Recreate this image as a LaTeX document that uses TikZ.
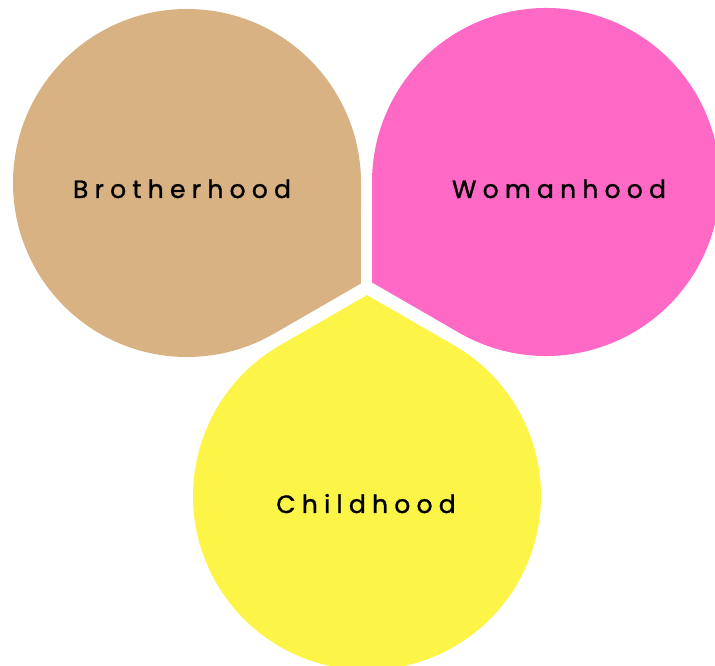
\documentclass[tikz,border=0pt]{standalone}
\usepackage{fontspec}
\setmainfont{Poppins}[LetterSpace=25,FakeBold=1.2]
\usetikzlibrary{calc}
\definecolor{tanc}{HTML}{D8B283}
\definecolor{pinkc}{HTML}{FF69C6}
\definecolor{yelc}{HTML}{FCF447}
\begin{document}
\begin{tikzpicture}[x=1pt,y=1pt,
  lbl/.style={anchor=base,font=\fontsize{25}{25}\selectfont,text=black,inner sep=0pt}]
\useasboundingbox (0,0) rectangle (715,666);
\begin{scope}
\clip (0,0) rectangle (715,666);
\coordinate (cb) at (187,483);
\coordinate (cw) at (546,484);
\coordinate (cc) at (367,170);
% Brotherhood drop
\fill[tanc] ($(cb)+(-30:200.9)$) -- ($(cb)+(0:174)$) arc[start angle=0,end angle=300,radius=174] -- cycle;
% Womanhood drop
\fill[pinkc] ($(cw)+(210:200.9)$) -- ($(cw)+(240:174)$) arc[start angle=240,end angle=540,radius=174] -- cycle;
% Childhood drop
\fill[yelc] ($(cc)+(90:200.9)$) -- ($(cc)+(120:174)$) arc[start angle=120,end angle=420,radius=174] -- cycle;
\end{scope}
\node[lbl] (tb) at (182,468) {Brotherhood};
\node[lbl] (tw) at (559,468) {Womanhood};
\node[lbl] (tc) at (366,153) {Childhood};
\end{tikzpicture}
\end{document}
